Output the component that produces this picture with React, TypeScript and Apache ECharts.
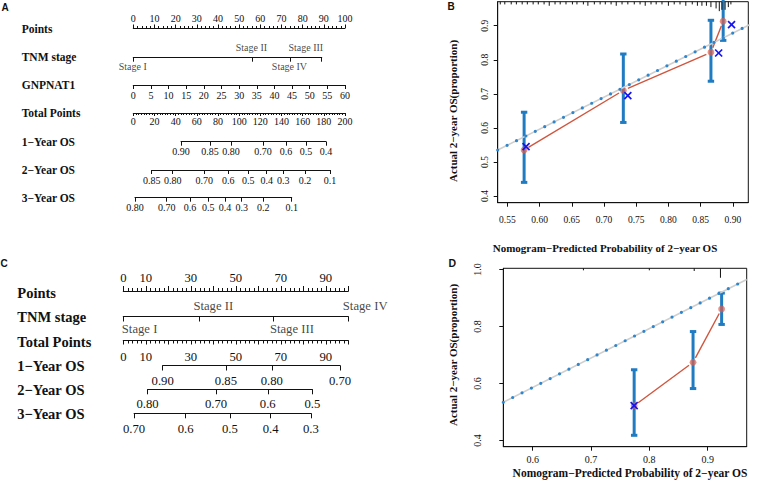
import { useEffect, useRef } from 'react';
import * as echarts from 'echarts';

const SERIF = '"Liberation Serif", "Times New Roman", serif';
const SANS = '"Liberation Sans", Arial, sans-serif';
const INK = '#111111';
const BAR_BLUE = '#1f7bc2';
const DOT_BLUE = '#2f86cc';
const IDEAL_GRAY = '#cfcfcf';
const RED_LINE = '#d0553d';
const RED_PT = 'rgba(221, 96, 76, 0.7)';
const X_BLUE = '#1414f0';

// ---------------- Panel A (nomogram) ----------------
const aRowNames = ['Points', 'TNM stage', 'GNPNAT1', 'Total Points', '1\u2212Year OS', '2\u2212Year OS', '3\u2212Year OS'];
const aPointsTicks = [0, 10, 20, 30, 40, 50, 60, 70, 80, 90, 100];
const tnmStages = ['Stage I', 'Stage II', 'Stage III', 'Stage IV'];
const aTnmPoints = [0, 56, 89, 74];
const aGnpnat1Ticks = [0, 5, 10, 15, 20, 25, 30, 35, 40, 45, 50, 55, 60];
const aTotalTicks = [0, 20, 40, 60, 80, 100, 120, 140, 160, 180, 200];
const aOs1Labels = ['0.90', '0.85', '0.80', '0.70', '0.6', '0.5', '0.4'];
const aOs1Total = [45.1, 72.5, 92.3, 122.5, 144.3, 163.2, 182.0];
const aOs2Labels = ['0.85', '0.80', '0.70', '0.6', '0.5', '0.4', '0.3', '0.2', '0.1'];
const aOs2Total = [17.4, 37.2, 67.1, 89.8, 108.6, 126.0, 141.7, 162.2, 185.8];
const aOs3Labels = ['0.80', '0.70', '0.6', '0.5', '0.4', '0.3', '0.2', '0.1'];
const aOs3Total = [1.6, 31.6, 53.6, 70.9, 86.6, 102.4, 122.8, 149.6];

// ---------------- Panel C (nomogram) ----------------
const cRowNames = ['Points', 'TNM stage', 'Total Points', '1\u2212Year OS', '2\u2212Year OS', '3\u2212Year OS'];
const cPointsLabels = [0, 10, 30, 50, 70, 90];
const cTnmPoints = [0, 33.6, 66.7, 100];
const cTotalLabels = [0, 10, 30, 50, 70, 90];
const cOs1Labels = ['0.90', '0.85', '0.80', '0.70'];
const cOs1Total = [17.5, 45.6, 66.0, 96.3];
const cOs2Labels = ['0.80', '0.70', '0.6', '0.5'];
const cOs2Total = [10.8, 41.2, 64.2, 84.0];
const cOs3Labels = ['0.70', '0.6', '0.5', '0.4', '0.3'];
const cOs3Total = [4.8, 27.7, 47.4, 65.5, 83.4];

// ---------------- Panel B (calibration) ----------------
const bXTicks = [0.55, 0.6, 0.65, 0.7, 0.75, 0.8, 0.85, 0.9];
const bYTicks = [0.4, 0.5, 0.6, 0.7, 0.8, 0.9];
const bXRange = [0.535, 0.924];
const bYRange = [0.3803, 0.9706];
const bPred = [0.576, 0.730, 0.866, 0.885];
const bObs = [0.535, 0.710, 0.822, 0.913];
const bLo = [0.440, 0.616, 0.737, 0.857];
const bHi = [0.646, 0.817, 0.916, 0.985];
const bCorrX = [0.579, 0.737, 0.878, 0.898];
const bCorrY = [0.545, 0.695, 0.820, 0.903];
const bIdealX = [0.535, 0.926];
const bIdealY = [0.535, 0.903];
const bRugX = [0.539, 0.546, 0.556, 0.564, 0.573, 0.581, 0.590, 0.598, 0.607, 0.615, 0.624, 0.632, 0.641, 0.651, 0.658, 0.668, 0.675, 0.685, 0.694, 0.702, 0.711, 0.719, 0.728, 0.737, 0.747, 0.756, 0.764, 0.773, 0.781, 0.790, 0.800, 0.809, 0.818, 0.827, 0.837, 0.845, 0.852, 0.859, 0.866, 0.874, 0.879, 0.883, 0.888, 0.893, 0.897];
const bRugN = [2, 2, 2, 2, 2, 2, 2, 2, 2, 3, 2, 2, 2, 2, 2, 2, 3, 2, 2, 2, 2, 3, 2, 2, 2, 2, 3, 2, 2, 2, 3, 2, 2, 3, 2, 3, 3, 3, 4, 5, 7, 6, 6, 4, 2];

// ---------------- Panel D (calibration) ----------------
const dXTicks = [0.6, 0.7, 0.8, 0.9];
const dYTicks = [0.4, 0.6, 0.8, 1.0];
const dXRange = [0.5496, 0.967];
const dYRange = [0.378, 1.004];
const dPred = [0.774, 0.875, 0.924];
const dObs = [0.522, 0.674, 0.861];
const dLo = [0.418, 0.582, 0.807];
const dHi = [0.648, 0.782, 0.917];
const dCorrX = [0.774];
const dCorrY = [0.522];
const dIdealX = [0.5496, 0.967];
const dIdealY = [0.534, 0.965];
const dRugX = [0.687, 0.800, 0.877, 0.922];
const dRugN = [1.5, 1.5, 2, 7];

const xTitle = 'Nomogram\u2212Predicted Probability of 2\u2212year OS';
const yTitle = 'Actual 2\u2212year OS(proportion)';

const lookup = (vals: number[], labels: string[]) => (v: number) => {
  const i = vals.findIndex((t) => Math.abs(t - v) < 1e-6);
  return i >= 0 ? labels[i] : '';
};

interface RowSpec {
  left: number; width: number; lineY: number; position: 'top' | 'bottom';
  min: number; max: number; interval?: number; minorSplit?: number; minorLen?: number;
  tickValues?: number[]; tickLen: number; labelValues?: number[]; labelFmt?: (v: number) => string;
  showLabels: boolean; fontSize: number; margin: number;
}

function buildOption() {
  const grids: any[] = [];
  const xAxes: any[] = [];
  const yAxes: any[] = [];
  const series: any[] = [];
  const graphics: any[] = [];

  const addRow = (r: RowSpec) => {
    const gi = grids.length;
    grids.push({ left: r.left, width: r.width, top: r.position === 'top' ? r.lineY : r.lineY - 1, height: 1 });
    const x: any = {
      gridIndex: gi, type: 'value', position: r.position, min: r.min, max: r.max,
      splitLine: { show: false },
      axisLine: { show: true, onZero: false, lineStyle: { color: INK, width: 1.1 } },
      axisTick: { show: true, inside: false, length: r.tickLen, lineStyle: { color: INK, width: 1 } },
      minorTick: r.minorSplit ? { show: true, splitNumber: r.minorSplit, length: r.minorLen, lineStyle: { color: INK, width: 1 } } : { show: false },
      axisLabel: { show: r.showLabels, fontSize: r.fontSize, fontFamily: SERIF, color: INK, margin: r.margin, hideOverlap: false },
    };
    if (r.interval) x.interval = r.interval;
    if (r.tickValues) x.axisTick.customValues = r.tickValues;
    if (r.labelValues) x.axisLabel.customValues = r.labelValues;
    if (r.labelFmt) x.axisLabel.formatter = r.labelFmt;
    xAxes.push(x);
    yAxes.push({ gridIndex: gi, type: 'value', min: 0, max: 1, show: false });
    return gi;
  };

  const text = (t: string, x: number, y: number, size: number, opts: any = {}) => ({
    type: 'text', x, y, rotation: opts.rotation || 0, silent: true,
    style: {
      text: t, fontSize: size, fontFamily: opts.family || SERIF, fontWeight: opts.weight || 'bold',
      fill: INK, align: opts.align || 'left', verticalAlign: 'middle',
    },
  });

  // ---------- Panel A ----------
  const AX0 = 133.3, AW = 211.7, AF = 10;
  const aLineY = [28, 57.7, 85, 113, 141.7, 170, 197.7];
  const aNameY = [29, 56.7, 85, 113.3, 142, 170, 197.7];
  addRow({ left: AX0, width: AW, lineY: aLineY[0], position: 'top', min: 0, max: 100, interval: 10, minorSplit: 5, minorLen: 2, tickLen: 3.5, labelValues: aPointsTicks, showLabels: true, fontSize: AF, margin: 4.5 });
  const aTnmMax = Math.max(...aTnmPoints);
  const aTnmGi = addRow({ left: AX0, width: AW * aTnmMax / 100, lineY: aLineY[1], position: 'bottom', min: 0, max: aTnmMax, tickValues: aTnmPoints, tickLen: 4, showLabels: false, fontSize: AF, margin: 4 });
  addRow({ left: AX0, width: AW, lineY: aLineY[2], position: 'bottom', min: 0, max: 60, tickValues: aGnpnat1Ticks, labelValues: aGnpnat1Ticks, tickLen: 4, showLabels: true, fontSize: AF, margin: 5 });
  addRow({ left: AX0, width: AW, lineY: aLineY[3], position: 'bottom', min: 0, max: 200, interval: 20, minorSplit: 8, minorLen: 2, tickLen: 3, labelValues: aTotalTicks, showLabels: true, fontSize: AF, margin: 3.5 });
  const osRow = (tot: number[], labels: string[], lineY: number, x0: number, w: number, maxT: number, font: number, margin: number, tickLen: number) =>
    addRow({
      left: x0 + (w * tot[0]) / maxT, width: (w * (tot[tot.length - 1] - tot[0])) / maxT, lineY, position: 'bottom',
      min: tot[0], max: tot[tot.length - 1], tickValues: tot, labelValues: tot, labelFmt: lookup(tot, labels),
      tickLen, showLabels: true, fontSize: font, margin,
    });
  osRow(aOs1Total, aOs1Labels, aLineY[4], AX0, AW, 200, AF, 5, 4);
  osRow(aOs2Total, aOs2Labels, aLineY[5], AX0, AW, 200, AF, 5, 4);
  osRow(aOs3Total, aOs3Labels, aLineY[6], AX0, AW, 200, AF, 5, 4);

  const aTnmLab = [
    { pos: [0, 9.5], align: 'center' },
    { pos: [0, -9.7], align: 'center' },
    { pos: [2, -9.7], align: 'right' },
    { pos: [0, 9.3], align: 'center' },
  ];
  series.push({
    type: 'scatter', xAxisIndex: aTnmGi, yAxisIndex: aTnmGi, symbolSize: 1, clip: false, silent: true,
    itemStyle: { color: 'rgba(0,0,0,0)' },
    data: tnmStages.map((s, i) => ({
      name: s, value: [aTnmPoints[i], 0],
      label: { show: true, formatter: s, position: aTnmLab[i].pos, align: aTnmLab[i].align, verticalAlign: 'middle', fontSize: AF, fontFamily: SERIF, color: INK },
    })),
  });
  aRowNames.forEach((n, i) => graphics.push(text(n, 21.7, aNameY[i], 11.5)));

  // ---------- Panel C ----------
  const CX0 = 123.3, CW = 225, CF = 12.7;
  const cLineY = [291, 316.5, 340.5, 365.5, 389.3, 413.3];
  const cNameY = [293, 316.5, 342, 366, 390, 413.5];
  addRow({ left: CX0, width: CW, lineY: cLineY[0], position: 'top', min: 0, max: 100, interval: 10, minorSplit: 5, minorLen: 3, tickLen: 5, labelValues: cPointsLabels, showLabels: true, fontSize: CF, margin: 7 });
  const cTnmMax = Math.max(...cTnmPoints);
  const cTnmGi = addRow({ left: CX0, width: CW * cTnmMax / 100, lineY: cLineY[1], position: 'bottom', min: 0, max: cTnmMax, tickValues: cTnmPoints, tickLen: 5, showLabels: false, fontSize: CF, margin: 4 });
  addRow({ left: CX0, width: CW, lineY: cLineY[2], position: 'bottom', min: 0, max: 100, interval: 10, minorSplit: 5, minorLen: 3, tickLen: 4, labelValues: cTotalLabels, showLabels: true, fontSize: CF, margin: 9.5 });
  osRow(cOs1Total, cOs1Labels, cLineY[3], CX0, CW, 100, CF, 9, 5);
  osRow(cOs2Total, cOs2Labels, cLineY[4], CX0, CW, 100, CF, 8.5, 5);
  osRow(cOs3Total, cOs3Labels, cLineY[5], CX0, CW, 100, CF, 9.5, 5);
  const cTnmLab = [
    { pos: [-1, 12.8], align: 'left' },
    { pos: [-5, -10], align: 'left' },
    { pos: [-3, 12.8], align: 'left' },
    { pos: [-5, -10], align: 'left' },
  ];
  series.push({
    type: 'scatter', xAxisIndex: cTnmGi, yAxisIndex: cTnmGi, symbolSize: 1, clip: false, silent: true,
    itemStyle: { color: 'rgba(0,0,0,0)' },
    data: tnmStages.map((s, i) => ({
      name: s, value: [cTnmPoints[i], 0],
      label: { show: true, formatter: s, position: cTnmLab[i].pos, align: cTnmLab[i].align, verticalAlign: 'middle', fontSize: CF, fontFamily: SERIF, color: INK },
    })),
  });
  cRowNames.forEach((n, i) => graphics.push(text(n, 17.3, cNameY[i], 14.5)));

  // ---------- Calibration panels ----------
  const calib = (
    box: { left: number; top: number; width: number; height: number },
    xr: number[], yr: number[], xt: number[], yt: number[], xDec: number, font: number, xMargin: number, yMargin: number,
    pred: number[], obs: number[], lo: number[], hi: number[], cx: number[], cy: number[],
    ix: number[], iy: number[], rugX: number[], rugN: number[],
  ) => {
    const gi = grids.length;
    grids.push({ ...box, show: true, borderColor: INK, borderWidth: 1 });
    xAxes.push({
      gridIndex: gi, type: 'value', position: 'bottom', min: xr[0], max: xr[1], splitLine: { show: false },
      axisLine: { show: true, onZero: false, lineStyle: { color: INK, width: 1 } },
      axisTick: { show: true, length: 4, customValues: xt, lineStyle: { color: INK } },
      axisLabel: { customValues: xt, formatter: (v: number) => v.toFixed(xDec), fontSize: font, fontFamily: SERIF, color: INK, margin: xMargin },
    });
    yAxes.push({
      gridIndex: gi, type: 'value', position: 'left', min: yr[0], max: yr[1], splitLine: { show: false },
      axisLine: { show: true, onZero: false, lineStyle: { color: INK, width: 1 } },
      axisTick: { show: true, length: 4, customValues: yt, lineStyle: { color: INK } },
      axisLabel: { customValues: yt, formatter: (v: number) => v.toFixed(1), rotate: 90, fontSize: font, fontFamily: SERIF, color: INK, margin: yMargin },
    });
    const ideal = ix.map((x, i) => [x, iy[i]]);
    series.push({ type: 'line', xAxisIndex: gi, yAxisIndex: gi, data: ideal, showSymbol: false, silent: true, lineStyle: { color: IDEAL_GRAY, width: 1.6 } });
    series.push({ type: 'line', xAxisIndex: gi, yAxisIndex: gi, data: ideal, showSymbol: false, silent: true, lineStyle: { color: DOT_BLUE, width: 3.2, type: [0, 10.5], cap: 'round' } });
    // error bars
    series.push({
      type: 'custom', xAxisIndex: gi, yAxisIndex: gi, silent: true, clip: false,
      data: pred.map((x, i) => [x, lo[i], hi[i]]),
      renderItem: (_p: any, api: any) => {
        const a = api.coord([api.value(0), api.value(1)]);
        const b = api.coord([api.value(0), api.value(2)]);
        const st = { stroke: BAR_BLUE, lineWidth: 3 };
        const cap = 3.2;
        return {
          type: 'group', children: [
            { type: 'line', shape: { x1: a[0], y1: a[1], x2: b[0], y2: b[1] }, style: st },
            { type: 'line', shape: { x1: a[0] - cap, y1: a[1], x2: a[0] + cap, y2: a[1] }, style: st },
            { type: 'line', shape: { x1: b[0] - cap, y1: b[1], x2: b[0] + cap, y2: b[1] }, style: st },
          ],
        };
      },
    });
    // observed curve: points joined with gaps (type "b")
    series.push({
      type: 'custom', xAxisIndex: gi, yAxisIndex: gi, silent: true, clip: false,
      data: pred.map((x, i) => [x, obs[i]]),
      renderItem: (p: any, api: any) => {
        const i = p.dataIndex;
        const a = api.coord([pred[i], obs[i]]);
        const kids: any[] = [{ type: 'circle', shape: { cx: a[0], cy: a[1], r: 3.4 }, style: { fill: RED_PT } }];
        if (i < pred.length - 1) {
          const b = api.coord([pred[i + 1], obs[i + 1]]);
          const dx = b[0] - a[0], dy = b[1] - a[1];
          const len = Math.sqrt(dx * dx + dy * dy);
          const g = 5;
          if (len > 2 * g) {
            kids.push({ type: 'line', shape: { x1: a[0] + (dx * g) / len, y1: a[1] + (dy * g) / len, x2: b[0] - (dx * g) / len, y2: b[1] - (dy * g) / len }, style: { stroke: RED_LINE, lineWidth: 1.4 } });
          }
        }
        return { type: 'group', children: kids };
      },
    });
    // bias-corrected crosses
    series.push({
      type: 'custom', xAxisIndex: gi, yAxisIndex: gi, silent: true, clip: false,
      data: cx.map((x, i) => [x, cy[i]]),
      renderItem: (_p: any, api: any) => {
        const a = api.coord([api.value(0), api.value(1)]);
        const s = 3.5;
        const st = { stroke: X_BLUE, lineWidth: 1.7 };
        return {
          type: 'group', children: [
            { type: 'line', shape: { x1: a[0] - s, y1: a[1] - s, x2: a[0] + s, y2: a[1] + s }, style: st },
            { type: 'line', shape: { x1: a[0] - s, y1: a[1] + s, x2: a[0] + s, y2: a[1] - s }, style: st },
          ],
        };
      },
    });
    // rug of predicted risks along top
    series.push({
      type: 'custom', xAxisIndex: gi, yAxisIndex: gi, silent: true, clip: false,
      data: rugX.map((x, i) => [x, rugN[i]]),
      renderItem: (_p: any, api: any) => {
        const a = api.coord([api.value(0), yr[1]]);
        const h = api.value(1) * 1.35;
        return { type: 'line', shape: { x1: a[0], y1: a[1], x2: a[0], y2: a[1] + h }, style: { stroke: INK, lineWidth: 1 } };
      },
    });
  };

  calib({ left: 497.7, top: 1.7, width: 250.6, height: 201 }, bXRange, bYRange, bXTicks, bYTicks, 2, 9.5, 12, 8,
    bPred, bObs, bLo, bHi, bCorrX, bCorrY, bIdealX, bIdealY, bRugX, bRugN);
  calib({ left: 503.3, top: 268.3, width: 243.4, height: 178.4 }, dXRange, dYRange, dXTicks, dYTicks, 1, 10, 8, 21,
    dPred, dObs, dLo, dHi, dCorrX, dCorrY, dIdealX, dIdealY, dRugX, dRugN);

  graphics.push(text(xTitle, 605, 248, 11, { align: 'center' }));
  graphics.push(text(xTitle, 630, 473.3, 11.5, { align: 'center' }));
  graphics.push(text(yTitle, 453, 111, 11, { align: 'center', rotation: Math.PI / 2 }));
  graphics.push(text(yTitle, 453.3, 355, 11, { align: 'center', rotation: Math.PI / 2 }));

  // panel letters
  graphics.push(text('A', 1.5, 7, 10, { family: SANS }));
  graphics.push(text('B', 447.5, 6, 10, { family: SANS }));
  graphics.push(text('C', 0.5, 263, 10, { family: SANS }));
  graphics.push(text('D', 448.5, 262.5, 10.5, { family: SANS }));

  return {
    animation: false,
    backgroundColor: '#ffffff',
    textStyle: { fontFamily: SERIF },
    grid: grids,
    xAxis: xAxes,
    yAxis: yAxes,
    series,
    graphic: { elements: graphics },
  };
}

export default function App() {
  const ref = useRef<HTMLDivElement>(null);
  useEffect(() => {
    if (!ref.current) return;
    const chart = echarts.init(ref.current, undefined, { renderer: 'svg' });
    chart.setOption(buildOption() as any);
    return () => chart.dispose();
  }, []);
  return <div ref={ref} style={{ position: 'absolute', left: 0, top: 0, width: 758, height: 482, background: '#fff' }} />;
}
